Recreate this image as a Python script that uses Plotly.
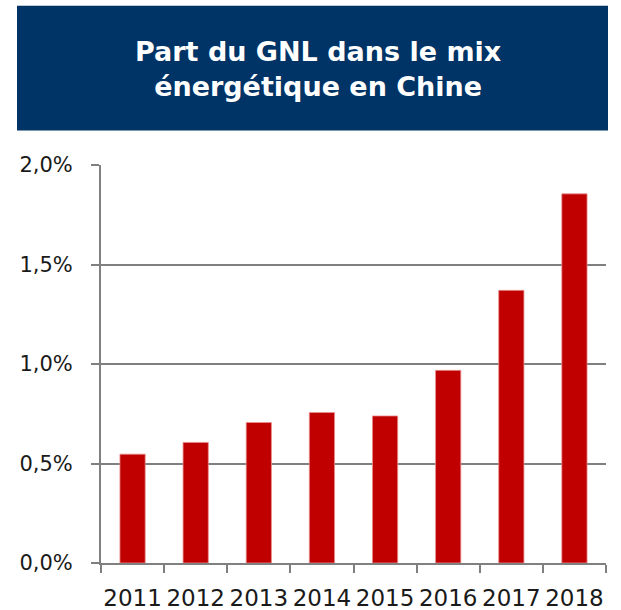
import plotly.graph_objects as go

years = ["2011", "2012", "2013", "2014", "2015", "2016", "2017", "2018"]
share_pct = [0.547, 0.606, 0.706, 0.756, 0.739, 0.968, 1.370, 1.855]
y_tick_vals = [0.0, 0.5, 1.0, 1.5, 2.0]
y_tick_text = ["0,0%", "0,5%", "1,0%", "1,5%", "2,0%"]
title_text = "Part du GNL dans le mix<br>énergétique en Chine"

W, H = 621, 610
L, R, T, B = 101, 15, 164.5, 47
pw = W - L - R
ph = H - T - B

def px(x):
    return (x - L) / pw

def py(y):
    return (H - B - y) / ph

fig = go.Figure()
fig.add_trace(go.Bar(
    x=years, y=share_pct,
    marker=dict(color="#C00000", line=dict(color="#E89090", width=0.8)),
    width=0.4,
))

fig.add_shape(type="rect", xref="paper", yref="paper",
              x0=px(17), x1=px(608), y0=py(130), y1=py(5),
              fillcolor="#003366", line=dict(width=0), layer="below")
fig.add_annotation(xref="paper", yref="paper", x=px(318), y=py(68),
                   text="<b>" + title_text + "</b>", showarrow=False,
                   font=dict(family="DejaVu Sans", size=27, color="white"),
                   align="center", xanchor="center", yanchor="middle")

fig.update_layout(
    width=W, height=H,
    margin=dict(l=L, r=R, t=T, b=B, pad=0, autoexpand=False),
    paper_bgcolor="white", plot_bgcolor="white",
    showlegend=False,
    font=dict(family="DejaVu Sans", color="#1a1a1a"),
)
fig.update_xaxes(
    type="category", showline=True, linecolor="#808080", linewidth=2,
    ticks="outside", tickson="boundaries", ticklen=8, tickcolor="#808080", tickwidth=2,
    tickfont=dict(size=23, color="#1a1a1a"), showgrid=False, ticklabelstandoff=13,
    tickangle=0, automargin=False,
)
fig.update_yaxes(
    range=[0, 2.0], tickvals=y_tick_vals, ticktext=y_tick_text,
    showline=True, linecolor="#808080", linewidth=2,
    ticks="outside", ticklen=8, tickcolor="#808080", tickwidth=2,
    showgrid=True, gridcolor="#7f7f7f", gridwidth=2,
    tickfont=dict(size=21, color="#1a1a1a"), ticklabelstandoff=14,
    zeroline=False, automargin=False,
)
fig.write_html("out.html", config={"displayModeBar": False},
               post_script="document.body.style.margin='0';")
